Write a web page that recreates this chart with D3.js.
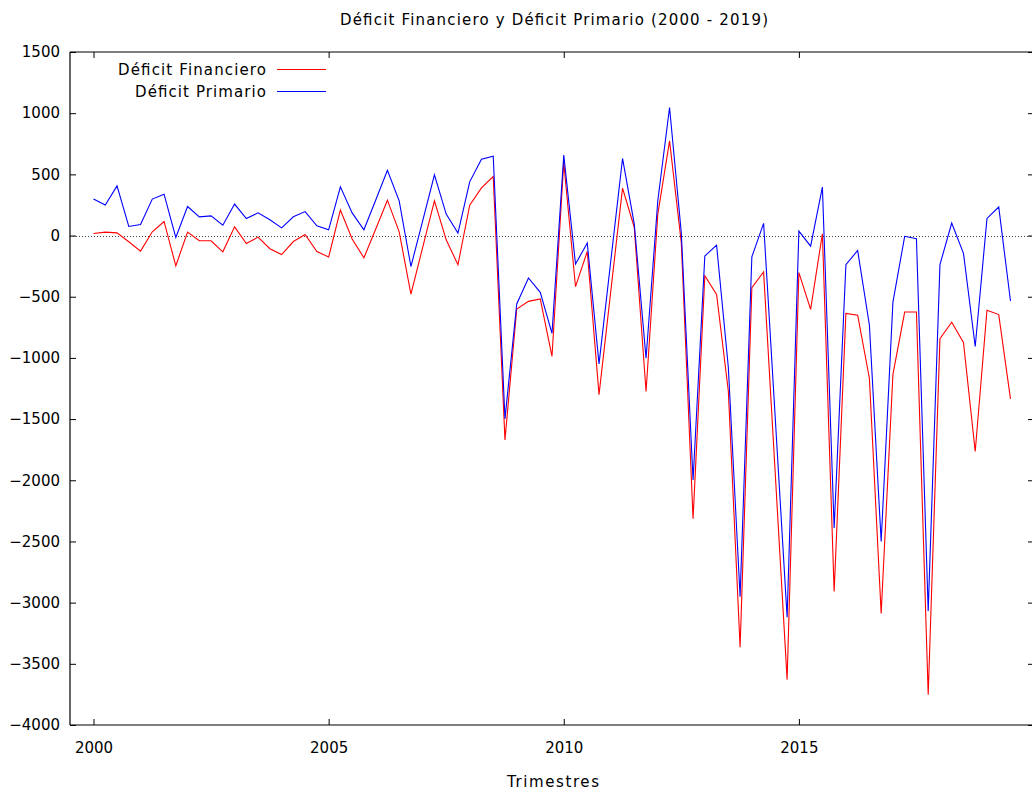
<!DOCTYPE html>
<html>
<head>
<meta charset="utf-8">
<script src="https://cdn.jsdelivr.net/npm/d3@7"></script>
<style>
  html, body { margin: 0; padding: 0; background: #fff; }
  svg { display: block; font-family: "DejaVu Sans", Verdana, sans-serif; }
</style>
</head>
<body>
<svg id="chart" width="1032" height="792"></svg>
<script>
// Quarterly series, 2000 Q1 through 2019 Q3
const years = [2000, 2001, 2002, 2003, 2004, 2005, 2006, 2007, 2008, 2009,
               2010, 2011, 2012, 2013, 2014, 2015, 2016, 2017, 2018, 2019];
const quartersPerYear = ["T1", "T2", "T3", "T4"];
const nPeriods = 79;

const deficitFinanciero = [
  17, 28, 22, -51, -127, 31, 115, -247, 28, -43,
  -43, -133, 71, -65, -13, -108, -155, -49, 9, -130,
  -176, 208, -28, -182, 52, 289, 30, -479, -97, 284,
  -35, -239, 248, 390, 482, -1670, -600, -538, -518, -987,
  597, -418, -130, -1300, -456, 388, 66, -1275, 175, 774,
  -60, -2315, -329, -481, -1272, -3365, -426, -297, -1963, -3629,
  -303, -604, 15, -2909, -637, -651, -1168, -3088, -1134, -625,
  -625, -3752, -843, -709, -873, -1765, -611, -646, -1335
];

const deficitPrimario = [
  298, 249, 406, 74, 90, 298, 338, -16, 237, 153,
  161, 85, 257, 139, 186, 129, 63, 153, 196, 80,
  47, 398, 185, 47, 289, 534, 284, -253, 120, 496,
  175, 20, 439, 624, 649, -1498, -559, -347, -464, -799,
  657, -233, -61, -1049, -208, 630, 94, -1003, 284, 1046,
  20, -1998, -167, -78, -1078, -2951, -174, 100, -1508, -3119,
  36, -87, 396, -2390, -238, -122, -733, -2501, -544, -6,
  -26, -3068, -238, 102, -145, -907, 140, 233, -535
];

const xTickValues = [2000, 2005, 2010, 2015];
const yTickValues = [1500, 1000, 500, 0, -500, -1000, -1500, -2000, -2500, -3000, -3500, -4000];

const seriesNames = ["Déficit Financiero", "Déficit Primario"];
const seriesColors = ["#ff0000", "#0000ff"];

// Period positions on a continuous time axis (year + quarter fraction)
const periods = [];
years.forEach(yr => quartersPerYear.forEach((q, qi) => periods.push({ year: yr, q: qi })));
const t = periods.slice(0, nPeriods).map(p => p.year + p.q / 4);

const svg = d3.select("#chart");
const plot = { left: 70, right: 1034, top: 52, bottom: 725 };

const x = d3.scaleLinear().domain([1999.5, 2020]).range([plot.left, plot.right]);
const y = d3.scaleLinear().domain([-4000, 1500]).range([plot.bottom, plot.top]);

// Zero reference line
svg.append("line")
  .attr("x1", plot.left).attr("x2", plot.right)
  .attr("y1", Math.round(y(0)) + 0.5).attr("y2", Math.round(y(0)) + 0.5)
  .attr("stroke", "#444").attr("stroke-width", 1)
  .attr("stroke-dasharray", "1,2");

// Series lines
const line = d3.line()
  .x((d, i) => x(t[i]))
  .y(d => y(d));

[deficitFinanciero, deficitPrimario].forEach((vals, k) => {
  svg.append("path")
    .datum(vals)
    .attr("d", line)
    .attr("fill", "none")
    .attr("stroke", seriesColors[k])
    .attr("stroke-width", 1.1)
    .attr("stroke-linejoin", "miter");
});

// Axes with inward ticks, mirrored on the opposite sides
const tickLen = 6;
const axisLeft = d3.axisLeft(y).tickValues(yTickValues).tickSize(-tickLen).tickPadding(10).tickFormat(d3.format("d"));
const axisRight = d3.axisRight(y).tickValues(yTickValues).tickSize(-tickLen).tickFormat("");
const axisBottom = d3.axisBottom(x).tickValues(xTickValues).tickSize(-tickLen).tickPadding(17).tickFormat(d3.format("d"));
const axisTop = d3.axisTop(x).tickValues(xTickValues).tickSize(-tickLen).tickFormat("");

function styleAxis(g) {
  g.select(".domain").attr("stroke", "#000").attr("stroke-width", 1.2);
  g.selectAll(".tick line").attr("stroke", "#000").attr("stroke-width", 1);
  g.selectAll(".tick text").attr("fill", "#000").attr("font-size", 15)
    .attr("font-family", "DejaVu Sans, Verdana, sans-serif");
}

svg.append("g").attr("transform", `translate(${plot.left},0)`).call(axisLeft).call(styleAxis)
  .call(g => g.select(".domain").attr("d", `M0,${plot.top}V${plot.bottom}`));
svg.append("g").attr("transform", `translate(${plot.right},0)`).call(axisRight).call(styleAxis)
  .call(g => g.select(".domain").attr("d", `M0,${plot.top}V${plot.bottom}`));
svg.append("g").attr("transform", `translate(0,${plot.bottom})`).call(axisBottom).call(styleAxis)
  .call(g => g.select(".domain").attr("d", `M${plot.left},0H${plot.right}`));
svg.append("g").attr("transform", `translate(0,${plot.top})`).call(axisTop).call(styleAxis)
  .call(g => g.select(".domain").attr("d", `M${plot.left},0H${plot.right}`));

// Title and axis label (wide Verdana-like setting)
svg.append("text")
  .attr("x", 554).attr("y", 25)
  .attr("text-anchor", "middle")
  .attr("font-size", 15)
  .attr("textLength", 428).attr("lengthAdjust", "spacing")
  .text("Déficit Financiero y Déficit Primario (2000 - 2019)");

svg.append("text")
  .attr("x", 553).attr("y", 787)
  .attr("text-anchor", "middle")
  .attr("font-size", 15)
  .attr("textLength", 92).attr("lengthAdjust", "spacing")
  .text("Trimestres");

// Legend
const legendWidths = [148, 131];
const legend = svg.append("g");
seriesNames.forEach((name, k) => {
  const ly = 70 + k * 22;
  legend.append("text")
    .attr("x", 266).attr("y", ly + 5)
    .attr("text-anchor", "end")
    .attr("font-size", 15)
    .attr("textLength", legendWidths[k]).attr("lengthAdjust", "spacing")
    .text(name);
  legend.append("line")
    .attr("x1", 277).attr("x2", 326)
    .attr("y1", ly - 0.5).attr("y2", ly - 0.5)
    .attr("stroke", seriesColors[k]).attr("stroke-width", 1.1);
});
</script>
</body>
</html>
